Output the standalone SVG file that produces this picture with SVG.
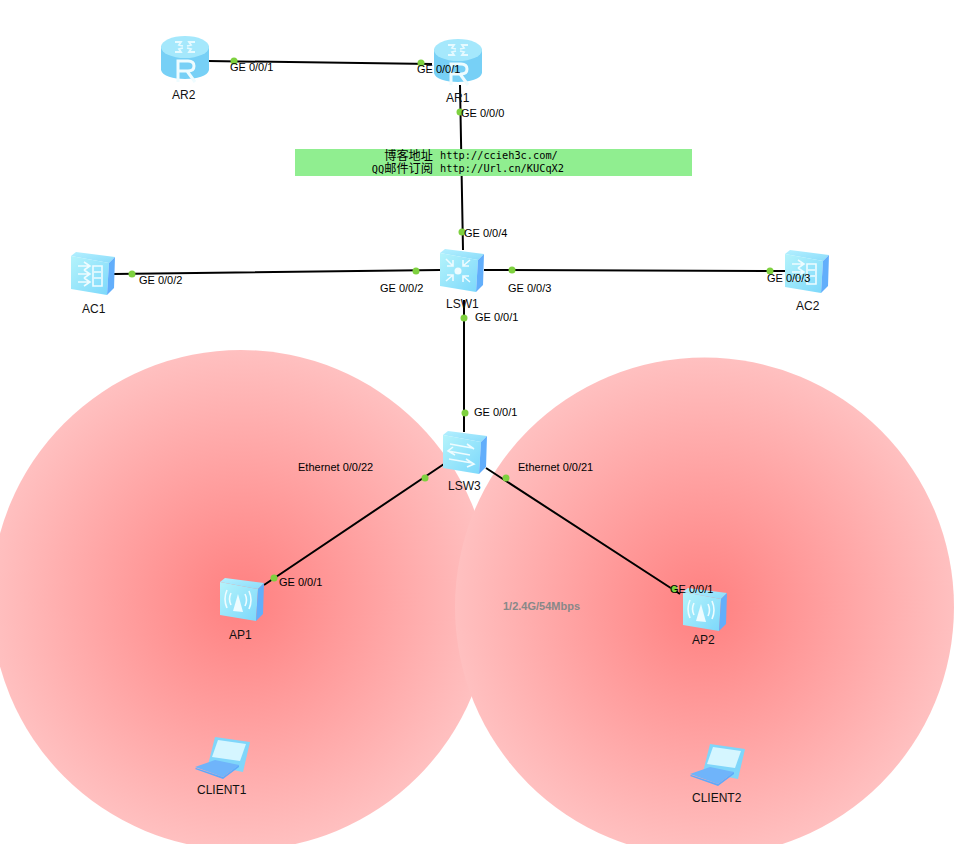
<svg xmlns="http://www.w3.org/2000/svg" width="965" height="844" viewBox="0 0 965 844">
<style>
text{font-family:"Liberation Sans",Arial,sans-serif;font-size:11px;fill:#000}
.n{font-size:12px;fill:#111}
.l{fill:none;stroke:#000;stroke-width:2}
.d{fill:#7ed13f}
.m{font-family:"DejaVu Sans Mono","Liberation Mono",monospace;font-size:10.3px}
.c{font-family:"Noto Sans CJK SC","Liberation Sans",sans-serif;font-size:12.2px}
.w{fill:none;stroke:#eefcff;stroke-width:1.6}
</style>
<defs>
<radialGradient id="g"><stop offset="0" stop-color="#ff8080"/><stop offset="1" stop-color="#ffc0c0"/></radialGradient>
<linearGradient id="top" x1="0" y1="0" x2="1" y2="1"><stop offset="0" stop-color="#b4f0ff"/><stop offset="1" stop-color="#8adcfa"/></linearGradient>
<linearGradient id="fr" x1="0" y1="0" x2="1" y2="1"><stop offset="0" stop-color="#b4f3fb"/><stop offset="1" stop-color="#7cd8fb"/></linearGradient>
<g id="box"><path d="M0 4 5 0 44 5 38 11Z" fill="url(#top)"/><path d="M0 4 38 11 36 43 0 37Z" fill="url(#fr)"/><path d="M38 11 44 5 43 36 36 43Z" fill="#62aefb"/></g>
<g id="rt"><path d="M0 10V34C2 46 46 46 48 34V10Z" fill="#77d0f6"/><ellipse cx="24" cy="11" rx="24" ry="11" fill="#a5e8fc"/><path d="M14 6H20L18 9 22 10M34 6H28L30 9 26 10M14 16H20L18 13 22 12M34 16H28L30 13 26 12" fill="none" stroke="#e6faff" stroke-width="1.8"/><path d="M17 46V25H27Q33 25 33 30T27 35H18M26 35 34 46" fill="none" stroke="#eefcff" stroke-width="3"/></g>
<g id="ap"><use href="#box"/><path d="M13 33 18 16 23 34Z" fill="#eefcff"/><path d="M11 15Q8 21 11 27M7 12Q3 21 7 30M25 16Q28 22 25 28M29 13Q33 22 29 31" class="w"/></g>
<g id="lap"><path d="M20 0 55 5 48 35 13 28Z" fill="#7fd6fa"/><path d="M23 3 51 7 45 24 17 20Z" fill="#d5f6ff"/><path d="M0 30 20 23 44 28 28 40Z" fill="#6fb4fa"/><path d="M1 31 28 40 28 42 0 32ZM28 40 44 28 44 30 28 42Z" fill="#5ea9fb"/></g>
</defs>
<rect width="965" height="844" fill="#fff"/>
<g id="cells"><circle cx="241" cy="600" r="250" fill="url(#g)"/><circle cx="704.5" cy="607" r="249.5" fill="url(#g)"/></g>
<g id="connectors">
<path class="l" d="M208 61 432 64M460 85 463 250M114 274 440 270M484 270 785 271M464 300V432M444 464 264 585M486 468 680 594"/>
</g>
<g id="ports">
<circle class="d" cx="234" cy="61" r="3.5"/><circle class="d" cx="421" cy="63" r="3.5"/><circle class="d" cx="460" cy="112" r="3.5"/><circle class="d" cx="462" cy="232" r="3.5"/><circle class="d" cx="132" cy="274" r="3.5"/><circle class="d" cx="416" cy="271" r="3.5"/><circle class="d" cx="512" cy="270" r="3.5"/><circle class="d" cx="770" cy="271" r="3.5"/><circle class="d" cx="464" cy="318" r="3.5"/><circle class="d" cx="465" cy="413" r="3.5"/><circle class="d" cx="425" cy="478" r="3.5"/><circle class="d" cx="506" cy="478" r="3.5"/><circle class="d" cx="274" cy="578" r="3.5"/><circle class="d" cx="674" cy="589" r="3.5"/>
</g>
<g id="AR2"><use href="#rt" x="161" y="36"/><text class="n" x="172" y="99">AR2</text></g>
<g id="AR1"><use href="#rt" x="434" y="39"/><text class="n" x="446" y="102">AR1</text></g>
<g id="AC1"><use href="#box" x="71" y="252"/><path class="w" d="M78 266H90M78 274H90M78 282H90M84 262 90 266 84 270M84 270 90 274 84 278M84 278 90 282 84 286M93 266H102V286H93ZM94 272H101M94 278H101"/><text class="n" x="82" y="313">AC1</text></g>
<g id="AC2"><use href="#box" x="785" y="250"/><path class="w" d="M792 264H804M792 272H804M792 280H804M798 260 804 264 798 268M798 268 804 272 798 276M807 264H816V284H807ZM808 270H815M808 276H815"/><text class="n" x="796" y="310">AC2</text></g>
<g id="LSW1"><use href="#box" x="440" y="249"/><circle cx="458" cy="271" r="3.5" fill="#eefcff"/><path class="w" d="M446 259 453 266M453 260V266H447M470 260 463 266M463 260V266H469M446 281 453 275M447 275H453V281M470 282 463 276M463 282V276H469"/><text class="n" x="446" y="308">LSW1</text></g>
<g id="LSW3"><use href="#box" x="443" y="431"/><path class="w" d="M450 444 472 448M467 444 474 449M448 451 470 455M453 447 448 451 455 455M449 459 472 463M466 459 474 464 467 467"/><text class="n" x="448" y="490">LSW3</text></g>
<g id="AP1"><use href="#ap" x="220" y="578"/><text class="n" x="229" y="639">AP1</text></g>
<g id="AP2"><use href="#ap" x="683" y="588"/><text class="n" x="692" y="644">AP2</text></g>
<g id="CLIENT1"><use href="#lap" x="195" y="737"/><text class="n" x="197" y="794">CLIENT1</text></g>
<g id="CLIENT2"><use href="#lap" x="690" y="744"/><text class="n" x="692" y="802">CLIENT2</text></g>
<g id="note"><rect x="295" y="149" width="397" height="27" fill="#90ee90"/>
<text class="c" x="433" y="160" text-anchor="end">博客地址</text><text class="m" x="440" y="159">http://ccieh3c.com/</text>
<text class="c" x="433" y="173" text-anchor="end"><tspan class="m">QQ</tspan>邮件订阅</text><text class="m" x="440" y="172">http://Url.cn/KUCqX2</text></g>
<g id="labels">
<text x="230" y="71">GE 0/0/1</text><text x="417" y="73">GE 0/0/1</text><text x="461" y="117">GE 0/0/0</text><text x="464" y="237">GE 0/0/4</text><text x="139" y="284">GE 0/0/2</text><text x="380" y="292">GE 0/0/2</text><text x="508" y="292">GE 0/0/3</text><text x="767" y="282">GE 0/0/3</text><text x="475" y="321">GE 0/0/1</text><text x="474" y="416">GE 0/0/1</text><text x="298" y="471">Ethernet 0/0/22</text><text x="518" y="471">Ethernet 0/0/21</text><text x="279" y="586">GE 0/0/1</text><text x="670" y="593">GE 0/0/1</text>
<text x="503" y="610" font-weight="bold" style="fill:#888">1/2.4G/54Mbps</text></g>
</svg>
